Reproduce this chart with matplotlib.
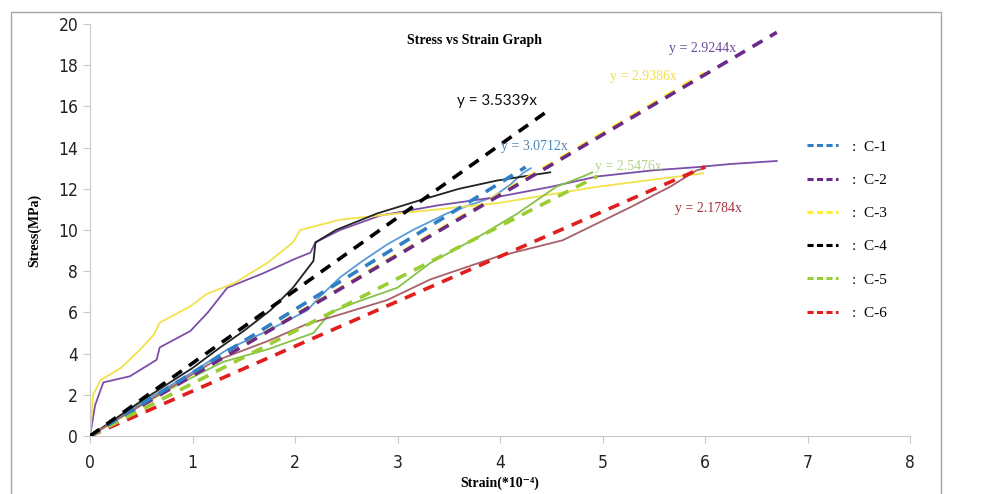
import matplotlib
matplotlib.use("Agg")
import matplotlib.pyplot as plt
from matplotlib.lines import Line2D
from matplotlib.patches import Rectangle
import numpy as np

# ---------------- data ----------------
specimens = ["C-1", "C-2", "C-3", "C-4", "C-5", "C-6"]
slopes = [3.0712, 2.9244, 2.9386, 3.5339, 2.5476, 2.1784]
fit_end_strain = [4.25, 6.7, 6.0, 4.5, 4.95, 6.0]

c1_strain = [0, 0.5, 1.0, 1.34, 1.73, 2.12, 2.25, 2.44, 2.66, 2.9, 3.15, 3.48, 3.7, 3.93, 4.1, 4.22, 4.3]
c1_stress = [0, 1.6, 3.1, 4.2, 5.1, 6.1, 6.8, 7.7, 8.5, 9.3, 10.0, 10.8, 11.2, 11.6, 12.2, 12.75, 13.0]

c2_strain = [0, 0.05, 0.13, 0.39, 0.65, 0.68, 0.98, 1.15, 1.34, 1.69, 2.0, 2.15, 2.2, 2.44, 2.83, 3.4, 3.97, 4.5, 4.95, 5.5, 5.92, 6.24, 6.7]
c2_stress = [0, 1.5, 2.6, 2.9, 3.7, 4.3, 5.1, 6.0, 7.2, 7.9, 8.6, 8.9, 9.4, 10.0, 10.7, 11.2, 11.6, 12.1, 12.6, 12.9, 13.05, 13.2, 13.35]

c3_strain = [0, 0.03, 0.1, 0.3, 0.49, 0.62, 0.68, 0.98, 1.14, 1.4, 1.73, 1.98, 2.05, 2.44, 3.0, 3.97, 4.95, 5.98]
c3_stress = [0, 2.0, 2.7, 3.3, 4.2, 4.9, 5.5, 6.3, 6.9, 7.4, 8.4, 9.4, 10.0, 10.5, 10.8, 11.3, 12.1, 12.75]

c4_strain = [0, 0.5, 1.0, 1.27, 1.5, 1.76, 1.98, 2.18, 2.2, 2.4, 2.8, 3.19, 3.6, 3.97, 4.49]
c4_stress = [0, 1.7, 3.3, 4.3, 5.1, 6.1, 7.2, 8.5, 9.4, 10.0, 10.8, 11.4, 12.0, 12.4, 12.8]

c5_strain = [0, 0.5, 0.9, 1.3, 1.73, 2.18, 2.28, 2.35, 2.6, 3.0, 3.32, 3.8, 4.17, 4.55, 4.81, 4.9]
c5_stress = [0, 1.5, 2.6, 3.6, 4.2, 5.0, 5.6, 6.0, 6.5, 7.2, 8.4, 9.7, 10.8, 12.1, 12.6, 12.8]

c6_strain = [0, 0.5, 1.0, 1.2, 1.73, 2.1, 2.44, 2.9, 3.32, 3.97, 4.61, 5.27, 5.66, 5.92, 6.0]
c6_stress = [0, 1.5, 3.0, 3.6, 4.6, 5.4, 5.9, 6.6, 7.6, 8.7, 9.5, 11.1, 12.1, 12.9, 13.0]

curves = [(c1_strain, c1_stress), (c2_strain, c2_stress), (c3_strain, c3_stress),
          (c4_strain, c4_stress), (c5_strain, c5_stress), (c6_strain, c6_stress)]

solid_colors = ["#5b9bd5", "#7b4fa8", "#f2e24a", "#222222", "#86c24a", "#a8616a"]
fit_colors = ["#2e7fc6", "#6a2a8a", "#ffee33", "#000000", "#9acd32", "#e01e1e"]

eq_labels = ["y = 3.0712x", "y = 2.9244x", "y = 2.9386x", "y = 3.5339x", "y = 2.5476x", "y = 2.1784x"]
eq_pos = [(4.34, 14.03), (5.98, 18.83), (5.40, 17.43), (3.97, 16.26), (5.25, 13.1), (6.03, 11.02)]
eq_colors = ["#4a86b8", "#6a4a9a", "#f0dc50", "#111111", "#b4d48a", "#a8323e"]

# ---------------- figure ----------------
fig = plt.figure(figsize=(9.85, 4.94), dpi=100)
fig.patch.set_facecolor("white")
fig.add_artist(Rectangle((11 / 985, -0.01), (941 - 11) / 985, (494 - 12) / 494 + 0.01,
                         transform=fig.transFigure, fill=False, edgecolor="#a6a6a6", lw=1.0))

ax = fig.add_axes([90 / 985, (494 - 436) / 494, 820 / 985, 412 / 494])
ax.set_xlim(0, 8)
ax.set_ylim(0, 20)

for (sx, sy), col in zip(curves, solid_colors):
    ax.plot(sx, sy, color=col, lw=1.3, zorder=2)

order = [2, 1, 5, 4, 0, 3]
for i in order:
    xs = np.array([0.0, fit_end_strain[i]])
    ax.plot(xs, slopes[i] * xs, color=fit_colors[i], lw=2.6, dashes=(3.2, 2.4), zorder=3 + order.index(i))

serif = ["Liberation Serif", "DejaVu Serif"]
for lab, (px, py), col, i in zip(eq_labels, eq_pos, eq_colors, range(6)):
    if i == 3:
        ax.text(px, py, lab, color=col, fontsize=11, ha="center", va="center",
                family=["Lato", "DejaVu Sans"], zorder=10)
    else:
        ax.text(px, py, lab, color=col, fontsize=10, ha="center", va="center",
                family=serif, zorder=10)

# axes styling
for s in ["top", "right"]:
    ax.spines[s].set_visible(False)
for s in ["left", "bottom"]:
    ax.spines[s].set_color("#c8c8c8")
ax.set_xticks(range(0, 9))
ax.set_yticks(range(0, 21, 2))
ax.tick_params(axis="both", direction="out", length=5, color="#c8c8c8")
for lbl in ax.get_xticklabels() + ax.get_yticklabels():
    lbl.set_family(["DejaVu Sans"])
    lbl.set_stretch("condensed")
    lbl.set_fontsize(12.5)
    lbl.set_color("#222222")
ax.tick_params(axis="x", pad=8)

ax.set_xlabel("Strain(*10\u207b\u2074)", fontsize=10, fontweight="bold", family=serif, labelpad=3)
ax.set_ylabel("Stress(MPa)", fontsize=10, fontweight="bold", family=serif, labelpad=12)

fig.text(0.482, 0.919, "Stress vs Strain Graph", fontsize=10, fontweight="bold",
         family=serif, ha="center", va="center")

handles = [Line2D([0], [0], color=c, lw=2.2, dashes=(2.0, 1.1)) for c in fit_colors]
labels = [":  " + s for s in specimens]
leg = ax.legend(handles, labels, loc="center left", bbox_to_anchor=(0.858, 0.50),
                frameon=False, handlelength=2.0, handletextpad=0.9, labelspacing=1.28,
                prop={"family": serif, "size": 11})

fig.savefig("out.png", dpi=100, facecolor="white")
